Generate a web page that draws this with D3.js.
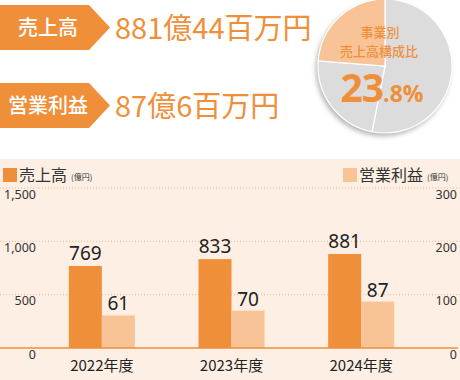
<!DOCTYPE html>
<html>
<head>
<meta charset="utf-8">
<script src="https://cdn.jsdelivr.net/npm/d3@7"></script>
<style>
  body { margin: 0; background: #fff; }
  svg { display: block; font-family: "Noto Sans CJK JP", "Noto Sans", sans-serif; }
</style>
</head>
<body>
<div id="chart"></div>
<script>
// data
const years = ["2022年度", "2023年度", "2024年度"];
const sales = [769, 833, 881];
const profit = [61, 70, 87];
const salesTicks = [0, 500, 1000, 1500];
const profitTicks = [0, 100, 200, 300];
const pieShares = [53.1, 23.1, 23.8];   // 他, 他, 当事業
const headline = [
    {label: "売上高", value: "881億44百万円"},
    {label: "営業利益", value: "87億6百万円"}
];

const orange = "#f08f3a",
    lightOrange = "#f7c397",
    bg = "#fdefe4";

const width = 460, height = 380;

const svg = d3.select("#chart").append("svg")
    .attr("width", width)
    .attr("height", height);

// shadow for the pie
const defs = svg.append("defs");
const filter = defs.append("filter").attr("id", "shadow")
    .attr("x", "-20%").attr("y", "-20%").attr("width", "140%").attr("height", "140%");
filter.append("feDropShadow")
    .attr("dx", -2).attr("dy", 3).attr("stdDeviation", 2.5)
    .attr("flood-color", "#000").attr("flood-opacity", 0.3);

// headline badges
headline.forEach((d, i) => {
    let y0 = 5 + i * 78;
    let g = svg.append("g").attr("transform", `translate(0, ${y0})`);
    g.append("path")
        .attr("d", "M0,0 H89 L110,22.5 L89,45 H0 Z")
        .attr("fill", orange);
    g.append("text")
        .attr("x", 48).attr("y", 30)
        .attr("text-anchor", "middle")
        .attr("fill", "#fff")
        .attr("font-size", 20)
        .attr("font-weight", 500)
        .text(d.label);
    g.append("text")
        .attr("x", 115).attr("y", 34)
        .attr("fill", orange)
        .attr("font-size", 29)
        .attr("font-family", "'Noto Sans CJK JP', sans-serif")
        .text(d.value);
});

// pie
const cx = 385, cy = 66, r = 67;
const pie = d3.pie().sort(null).value(d => d);
const arc = d3.arc().innerRadius(0).outerRadius(r);
const pieG = svg.append("g").attr("transform", `translate(${cx}, ${cy})`);
pieG.append("circle").attr("r", r).attr("fill", "#dcdcdc").attr("filter", "url(#shadow)");
pieG.selectAll(".slice")
    .data(pie(pieShares))
    .enter().append("path")
    .attr("class", "slice")
    .attr("d", arc)
    .attr("fill", (d, i) => i === 2 ? lightOrange : "#dcdcdc")
    .attr("stroke", "#fff")
    .attr("stroke-width", 1.2);

svg.append("text")
    .attr("x", 380).attr("y", 37)
    .attr("text-anchor", "middle")
    .attr("fill", orange).attr("font-size", 13).attr("font-weight", 500)
    .text("事業別");
svg.append("text")
    .attr("x", 379).attr("y", 55.5)
    .attr("text-anchor", "middle")
    .attr("fill", orange).attr("font-size", 13).attr("font-weight", 500)
    .text("売上高構成比");
const pct = svg.append("text")
    .attr("x", 382).attr("y", 102)
    .attr("text-anchor", "middle")
    .attr("fill", orange)
    .attr("font-weight", "bold")
    .attr("font-family", "'Open Sans', 'Noto Sans', sans-serif");
pct.append("tspan").attr("font-size", 39).attr("letter-spacing", -1).text("23");
pct.append("tspan").attr("font-size", 23).text(".8%");

// bar chart panel
svg.append("rect")
    .attr("x", 0).attr("y", 159)
    .attr("width", width).attr("height", height - 159)
    .attr("fill", bg);

const y = d3.scaleLinear().domain([0, 1500]).range([348, 188]);
const y2 = d3.scaleLinear().domain([0, 300]).range([348, 188]);
const x = d3.scaleBand().domain(years).range([37, 426]).padding(0);
const barW = 33;

// grid
svg.append("g").selectAll("line")
    .data(salesTicks.slice(1))
    .enter().append("line")
    .attr("x1", 0).attr("x2", width)
    .attr("y1", d => y(d)).attr("y2", d => y(d))
    .attr("stroke", "#f2b98a")
    .attr("stroke-width", 1)
    .attr("stroke-dasharray", "1,2");

// left axis labels (below grid lines)
const leftAxis = d3.axisLeft(y).tickValues(salesTicks).tickSize(0).tickFormat(d3.format(","));
const gl = svg.append("g").attr("transform", "translate(36, 0)").call(leftAxis);
gl.select(".domain").remove();
gl.selectAll("text")
    .attr("dy", 10)
    .attr("x", 0)
    .attr("font-size", 12.5)
    .attr("font-family", "'Noto Sans', sans-serif")
    .attr("fill", "#333");

const rightAxis = d3.axisRight(y2).tickValues(profitTicks).tickSize(0);
const gr = svg.append("g").attr("transform", "translate(457, 0)").call(rightAxis);
gr.select(".domain").remove();
gr.selectAll("text")
    .attr("dy", 10)
    .attr("x", 0)
    .attr("text-anchor", "end")
    .attr("font-size", 12.5)
    .attr("font-family", "'Noto Sans', sans-serif")
    .attr("fill", "#333");

// bars
const groups = svg.append("g").selectAll(".year")
    .data(years)
    .enter().append("g")
    .attr("class", "year")
    .attr("transform", d => `translate(${x(d) + x.bandwidth() / 2}, 0)`);

groups.append("rect")
    .attr("x", -barW).attr("width", barW)
    .attr("y", (d, i) => y(sales[i]))
    .attr("height", (d, i) => y(0) - y(sales[i]))
    .attr("fill", orange);
groups.append("rect")
    .attr("x", 0).attr("width", barW)
    .attr("y", (d, i) => y2(profit[i]))
    .attr("height", (d, i) => y2(0) - y2(profit[i]))
    .attr("fill", lightOrange);

groups.append("text")
    .attr("x", -barW / 2)
    .attr("y", (d, i) => y(sales[i]) - 6)
    .attr("text-anchor", "middle")
    .attr("font-size", 19)
    .attr("font-family", "'Noto Sans', sans-serif")
    .attr("fill", "#222")
    .text((d, i) => sales[i]);
groups.append("text")
    .attr("x", barW / 2)
    .attr("y", (d, i) => y2(profit[i]) - 5)
    .attr("text-anchor", "middle")
    .attr("font-size", 19)
    .attr("font-family", "'Noto Sans', sans-serif")
    .attr("fill", "#222")
    .text((d, i) => profit[i]);

groups.append("text")
    .attr("x", 0).attr("y", 371)
    .attr("text-anchor", "middle")
    .attr("font-size", 15)
    .attr("fill", "#222")
    .text(d => d);

// baseline
svg.append("line")
    .attr("x1", 0).attr("x2", 458)
    .attr("y1", y(0)).attr("y2", y(0))
    .attr("stroke", orange).attr("stroke-width", 1.5);

// legends
const legends = [
    {x: 3, color: orange, label: "売上高"},
    {x: 343, color: lightOrange, label: "営業利益"}
];
legends.forEach(d => {
    let g = svg.append("g").attr("transform", `translate(${d.x}, 168)`);
    g.append("rect").attr("width", 14).attr("height", 14).attr("fill", d.color);
    let t = g.append("text").attr("x", 16).attr("y", 13).attr("fill", "#333");
    t.append("tspan").attr("font-size", 16).text(d.label);
    t.append("tspan").attr("font-size", 8).attr("dx", 4).attr("dy", -1).text("(億円)");
});
</script>
</body>
</html>
